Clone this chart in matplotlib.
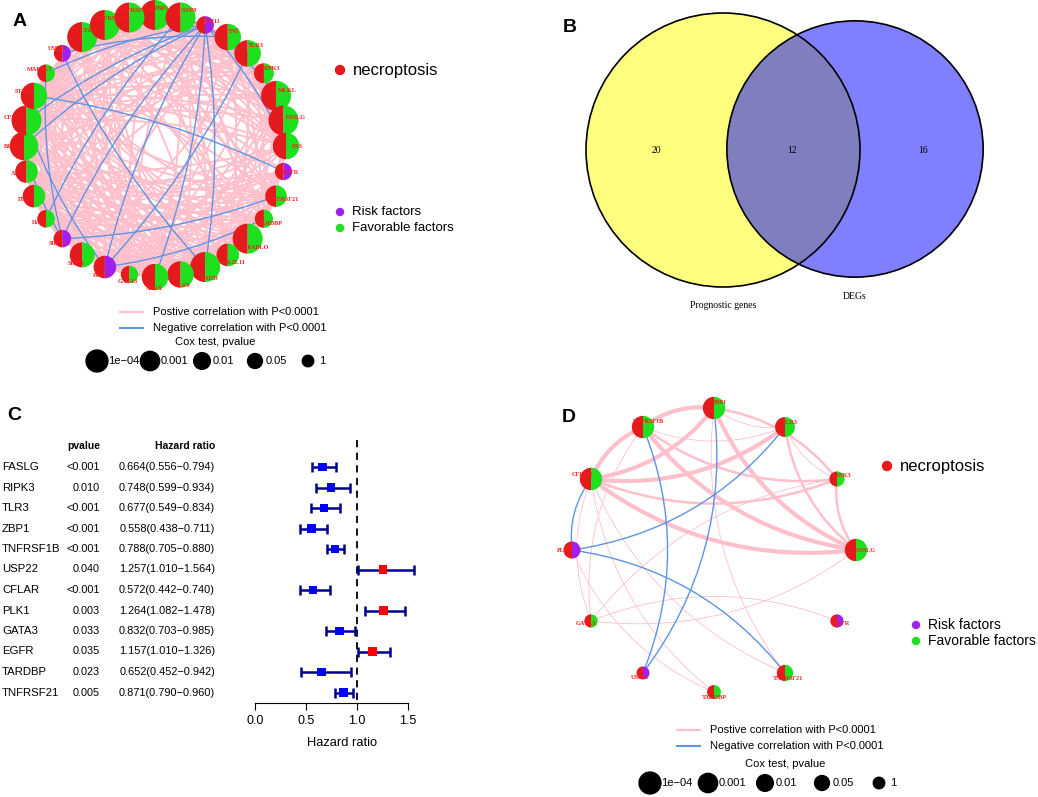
import numpy as np
import matplotlib.pyplot as plt
from matplotlib.patches import Wedge, Circle, FancyArrowPatch
from matplotlib.transforms import blended_transform_factory
from itertools import combinations

plt.rcParams['font.family'] = ['Liberation Sans', 'DejaVu Sans']

# ---- panel A: prognostic necroptosis genes (clockwise from the top) ----
genes_a = ['ZBP1', 'CASP8', 'TRIM11', 'TNF', 'TLR3', 'RIPK3', 'MLKL', 'FASLG', 'FAS', 'EGFR',
           'TNFRSF21', 'TARDBP', 'DIABLO', 'BCL2L11', 'FADD', 'KLF9', 'ATRX', 'GATA3', 'PLK1',
           'SIRT1', 'SIRT2', 'HAT1', 'FLT3', 'AXL', 'BRAF', 'CFLAR', 'STAT3', 'MAP3K7', 'USP22',
           'CYLD', 'TNFRSF1B', 'TNFRSF10B']
pval_a = [1e-4, 1e-4, 0.03, 5e-4, 5e-4, 0.010, 1e-4, 1e-4, 5e-4, 0.035,
          0.005, 0.023, 1e-4, 0.003, 1e-4, 5e-4, 5e-4, 0.033, 0.003,
          0.001, 0.03, 0.03, 0.003, 0.003, 2e-4, 1e-4, 5e-4, 0.03, 0.040,
          1e-4, 1e-4, 1e-4]
risk_a = ['TRIM11', 'EGFR', 'PLK1', 'SIRT2', 'USP22']

# groups of genes that are positively correlated with each other
pos_groups_a = [
    ['ZBP1', 'CASP8', 'TNF', 'TLR3', 'RIPK3', 'MLKL', 'FASLG', 'FAS', 'CYLD', 'TNFRSF1B',
     'TNFRSF10B', 'STAT3', 'CFLAR', 'GATA3'],
    ['DIABLO', 'BCL2L11', 'FADD', 'KLF9', 'ATRX', 'SIRT1', 'HAT1', 'FLT3', 'AXL', 'BRAF',
     'MAP3K7', 'TARDBP', 'TNFRSF21', 'CFLAR'],
    ['STAT3', 'BRAF', 'FADD', 'KLF9', 'TNFRSF21', 'CASP8', 'TNFRSF1B', 'CYLD', 'MLKL',
     'DIABLO', 'ATRX'],
    ['PLK1', 'SIRT2', 'EGFR', 'USP22', 'ATRX', 'HAT1', 'KLF9', 'AXL', 'FLT3'],
    ['ZBP1', 'TNFRSF10B', 'TNF', 'TLR3', 'FAS', 'BCL2L11', 'SIRT1', 'FLT3', 'AXL', 'TARDBP',
     'GATA3', 'HAT1', 'USP22'],
]
neg_a = [('TRIM11', 'TNFRSF10B'), ('TRIM11', 'MAP3K7'), ('TRIM11', 'CFLAR'), ('TRIM11', 'BRAF'),
         ('TRIM11', 'PLK1'), ('TRIM11', 'SIRT2'), ('TRIM11', 'FADD'), ('TRIM11', 'FAS'),
         ('TRIM11', 'ATRX'), ('TRIM11', 'MLKL'), ('USP22', 'FADD'), ('USP22', 'TNF'),
         ('MAP3K7', 'SIRT2'), ('CFLAR', 'PLK1'), ('BRAF', 'SIRT2'), ('SIRT2', 'TNFRSF21'),
         ('PLK1', 'TARDBP'), ('PLK1', 'TLR3'), ('EGFR', 'STAT3'), ('HAT1', 'CASP8')]

# ---- panel B: venn counts ----
venn_names = ['Prognostic genes', 'DEGs']
venn_counts = [20, 12, 16]

# ---- panel C: univariate cox ----
genes_c = ['FASLG', 'RIPK3', 'TLR3', 'ZBP1', 'TNFRSF1B', 'USP22', 'CFLAR', 'PLK1',
           'GATA3', 'EGFR', 'TARDBP', 'TNFRSF21']
pv_c = ['<0.001', '0.010', '<0.001', '<0.001', '<0.001', '0.040', '<0.001', '0.003',
        '0.033', '0.035', '0.023', '0.005']
hr = np.array([0.664, 0.748, 0.677, 0.558, 0.788, 1.257, 0.572, 1.264, 0.832, 1.157, 0.652, 0.871])
hr_lo = np.array([0.556, 0.599, 0.549, 0.438, 0.705, 1.010, 0.442, 1.082, 0.703, 1.010, 0.452, 0.790])
hr_hi = np.array([0.794, 0.934, 0.834, 0.711, 0.880, 1.564, 0.740, 1.478, 0.985, 1.326, 0.942, 0.960])

# ---- panel D: the 12 overlapping genes (clockwise from the top) ----
genes_d = ['ZBP1', 'TLR3', 'RIPK3', 'FASLG', 'EGFR', 'TNFRSF21', 'TARDBP', 'USP22',
           'GATA3', 'PLK1', 'CFLAR', 'TNFRSF1B']
# (from, to, correlation strength)
pos_d = [('ZBP1', 'TNFRSF1B', 0.8), ('CFLAR', 'ZBP1', 0.8), ('ZBP1', 'FASLG', 0.8),
         ('RIPK3', 'ZBP1', 0.6), ('ZBP1', 'TLR3', 0.4), ('ZBP1', 'TNFRSF21', 0.4),
         ('TNFRSF1B', 'TLR3', 0.4), ('TNFRSF1B', 'CFLAR', 0.8), ('TNFRSF1B', 'FASLG', 0.8),
         ('TNFRSF1B', 'RIPK3', 0.6), ('TNFRSF1B', 'GATA3', 0.4), ('CFLAR', 'TLR3', 0.8),
         ('CFLAR', 'RIPK3', 0.6), ('CFLAR', 'FASLG', 0.8), ('CFLAR', 'GATA3', 0.4),
         ('CFLAR', 'TNFRSF21', 0.4), ('CFLAR', 'TARDBP', 0.4), ('TLR3', 'FASLG', 0.6),
         ('TLR3', 'RIPK3', 0.4), ('RIPK3', 'FASLG', 0.6), ('RIPK3', 'GATA3', 0.4),
         ('GATA3', 'FASLG', 0.4), ('EGFR', 'GATA3', 0.4), ('PLK1', 'TARDBP', 0.4)]
neg_d = [('CFLAR', 'PLK1'), ('PLK1', 'TLR3'), ('TNFRSF21', 'PLK1'),
         ('USP22', 'TNFRSF1B'), ('USP22', 'ZBP1')]

cox_vals = [1e-4, 1e-3, 1e-2, 0.05, 1]
cox_labels = ['1e\u221204', '0.001', '0.01', '0.05', '1']

RED = '#E41A1C'
GREEN = '#1EE01E'
PURPLE = '#A020F0'
PINK = '#FFC0CB'
BLUE = '#5E93E6'

fig = plt.figure(figsize=(10.38, 7.97), dpi=100)
base = fig.add_axes([0, 0, 1, 1])
base.set_xlim(0, 1038)
base.set_ylim(797, 0)
base.axis('off')

pdict = dict(zip(genes_a, pval_a))


def draw_network(genes, cx, cy, R, rfun, pos_edges, neg_edges, rad, outward):
    n = len(genes)
    ang = np.deg2rad(90 - np.arange(n) * 360.0 / n)
    xy = {g: (cx + R * np.cos(a), cy - R * np.sin(a)) for g, a in zip(genes, ang)}
    idx = {g: i for i, g in enumerate(genes)}

    def edge(a, b, color, lw):
        if outward and (idx[a] - idx[b]) % n > n / 2:
            a, b = b, a
        base.add_patch(FancyArrowPatch(xy[a], xy[b], arrowstyle='-', color=color, lw=lw,
                                       connectionstyle='arc3,rad=%s' % rad,
                                       shrinkA=0, shrinkB=0, zorder=2))
    for a, b, lw in pos_edges:
        edge(a, b, PINK, lw)
    for a, b in neg_edges:
        edge(a, b, BLUE, 1.0)
    for g, a in zip(genes, ang):
        x, y = xy[g]
        r = rfun(pdict[g])
        right = PURPLE if g in risk_a else GREEN
        base.add_patch(Wedge((x, y), r, 90, 270, color=RED, lw=0, zorder=4))
        base.add_patch(Wedge((x, y), r, 270, 90, color=right, lw=0, zorder=4))
        if np.sin(a) > 0.75:
            lx, ly = x + r * 0.45, y - r * 0.45
        else:
            lx = x + r * 0.85 * np.cos(a)
            ly = y - r * 0.85 * np.sin(a)
        base.text(lx, ly, g, color='#FF1A1A', fontsize=4.5, fontweight='bold',
                  family='Liberation Serif', ha='center', va='center', zorder=5)


def L(p):
    return -np.log10(max(p, 1e-4))


# panel A network
pos_a = set()
for grp in pos_groups_a:
    for a, b in combinations(grp, 2):
        if (b, a) not in pos_a:
            pos_a.add((a, b))
pos_a = [(a, b, 1.4) for a, b in sorted(pos_a)]
draw_network(genes_a, 155, 146, 131, lambda p: 5 + 2.5 * L(p), pos_a, neg_a, 0.08, True)

# panel D network
pos_dw = [(a, b, 0.6 + (w - 0.4) * 6) for a, b, w in pos_d]
draw_network(genes_d, 714, 550, 142, lambda p: 4 + 1.8 * L(p), pos_dw, neg_d, 0.2, False)


def legends(x_dot, y_nec, x_rdot, y_risk, x_line, y_line, x_cox, y_cox, cx_list, fs):
    base.add_patch(Circle((x_dot, y_nec), 4.5, color=RED))
    base.text(x_dot + 13, y_nec, 'necroptosis', fontsize=12, va='center')
    base.add_patch(Circle((x_rdot, y_risk), 3.5, color=PURPLE))
    base.text(x_rdot + 12, y_risk, 'Risk factors', fontsize=fs, va='center')
    base.add_patch(Circle((x_rdot, y_risk + 16), 3.5, color=GREEN))
    base.text(x_rdot + 12, y_risk + 16, 'Favorable factors', fontsize=fs, va='center')
    base.plot([x_line, x_line + 23], [y_line, y_line], color=PINK, lw=1.5)
    base.plot([x_line, x_line + 23], [y_line + 16, y_line + 16], color=BLUE, lw=1.5)
    base.text(x_line + 33, y_line, 'Postive correlation with P<0.0001', fontsize=8, va='center')
    base.text(x_line + 33, y_line + 16, 'Negative correlation with P<0.0001', fontsize=8, va='center')
    base.text(x_cox, y_cox, 'Cox test, pvalue', fontsize=8, ha='center', va='center')
    for xc, v, lab in zip(cx_list, cox_vals, cox_labels):
        d = 11.5 + 2.6 * (-np.log10(v))
        base.add_patch(Circle((xc, y_cox + 19), d / 2, color='black', zorder=3))
        base.text(xc + 11, y_cox + 19, lab, fontsize=8, va='center', zorder=2)


legends(340, 70, 340, 212, 120, 312, 215, 342, [97, 150, 202, 255, 308], 9.5)
legends(887, 466, 916, 625, 677, 730, 785, 764, [650, 708, 765, 822, 879], 10)

# panel B venn
n_left = venn_counts[0] + venn_counts[1]
n_right = venn_counts[1] + venn_counts[2]
k = 137 / np.sqrt(n_left)
centres = [(723, 150), (855, 149)]
radii = [k * np.sqrt(n_left), k * np.sqrt(n_right)]
for c, r, fc in zip(centres, radii, ['yellow', 'blue']):
    base.add_patch(Circle(c, r, fc=fc, alpha=0.5, ec='none'))
for c, r in zip(centres, radii):
    base.add_patch(Circle(c, r, fill=False, ec='black', lw=1.2))
for x, v in zip([656, 792, 923], venn_counts):
    base.text(x, 150, str(v), fontsize=7, family='Liberation Serif', ha='center', va='center')
base.text(723, 305, venn_names[0], fontsize=7, family='Liberation Serif', ha='center', va='center')
base.text(855, 296, venn_names[1], fontsize=7, family='Liberation Serif', ha='center', va='center')

# panel letters
for lab, x, y in [('A', 20, 21), ('B', 570, 27), ('C', 14, 415), ('D', 569, 417)]:
    base.text(x, y, lab, fontsize=14, fontweight='bold', ha='center', va='center')

# panel C forest plot
axc = fig.add_axes([255 / 1038, 1 - 703 / 797, 175 / 1038, 263 / 797])
axc.set_xlim(0, 175 / 101.7)
axc.set_ylim(-(703 - 467) / 20.5, (467 - 440) / 20.5)
rows = -np.arange(len(genes_c))
axc.plot([1, 1], [-11.37, 1.32], color='black', lw=1.3, ls=(0, (4, 3)))
axc.errorbar(hr, rows, xerr=[hr - hr_lo, hr_hi - hr], fmt='none', ecolor='#00008B',
             elinewidth=1.8, capsize=3.6, capthick=1.8, zorder=2)
axc.scatter(hr, rows, marker='s', s=38, c=['#FF0000' if h > 1 else '#0000FF' for h in hr],
            zorder=3, lw=0)
for s in ['top', 'right', 'left']:
    axc.spines[s].set_visible(False)
axc.spines['bottom'].set_bounds(0, 1.5)
axc.set_xticks([0, 0.5, 1, 1.5])
axc.set_xticklabels(['0.0', '0.5', '1.0', '1.5'])
axc.tick_params(axis='x', length=5, labelsize=9)
axc.set_yticks([])
axc.set_xlabel('Hazard ratio', fontsize=9.3, labelpad=7)
axc.patch.set_alpha(0)

tr = blended_transform_factory(base.transData, axc.transData)
axc.text(100, 1.02, 'pvalue', transform=tr, ha='right', va='center', fontsize=7.5, fontweight='bold')
axc.text(215, 1.02, 'Hazard ratio', transform=tr, ha='right', va='center', fontsize=7.5,
         fontweight='bold')
for yv, g, p, h, lo, hi in zip(rows, genes_c, pv_c, hr, hr_lo, hr_hi):
    axc.text(2, yv, g, transform=tr, ha='left', va='center', fontsize=8.2)
    axc.text(100, yv, p, transform=tr, ha='right', va='center', fontsize=7.8)
    axc.text(215, yv, '%.3f(%.3f\u2212%.3f)' % (h, lo, hi), transform=tr, ha='right',
             va='center', fontsize=7.9)

fig.savefig('out.png', dpi=100)
